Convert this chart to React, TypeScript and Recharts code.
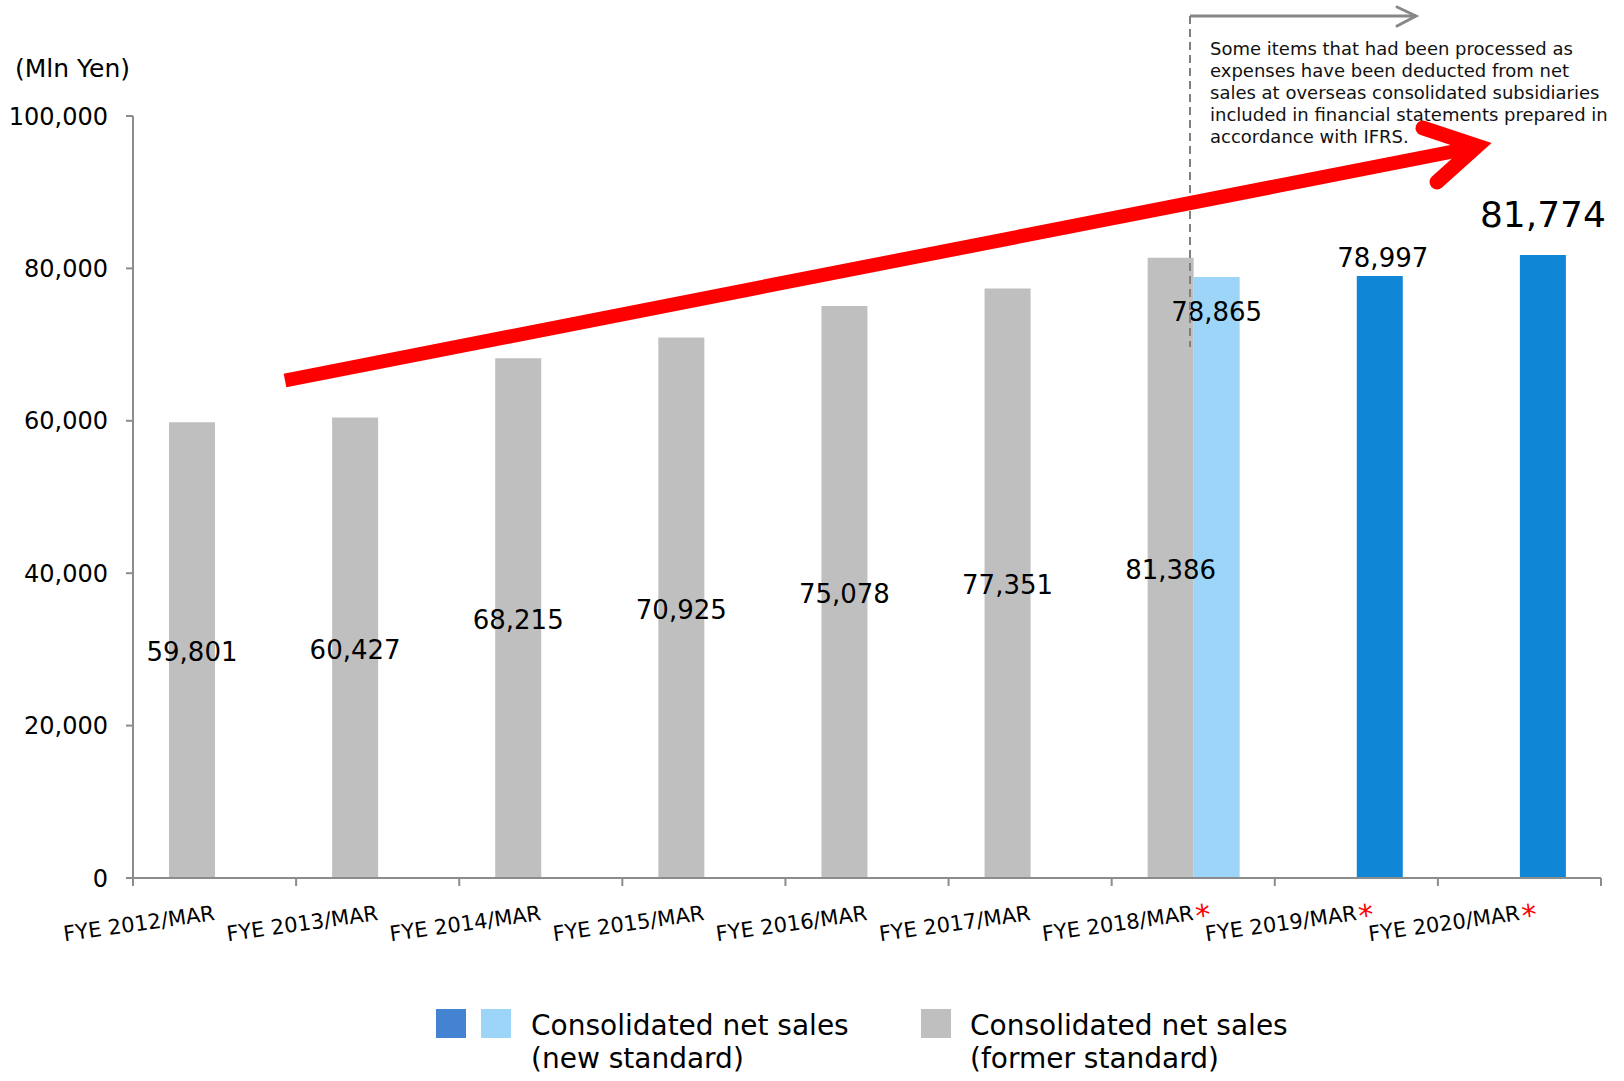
import React from 'react';
import { BarChart, Bar, XAxis, YAxis, Cell, LabelList } from 'recharts';

const categories = [
  'FYE 2012/MAR',
  'FYE 2013/MAR',
  'FYE 2014/MAR',
  'FYE 2015/MAR',
  'FYE 2016/MAR',
  'FYE 2017/MAR',
  'FYE 2018/MAR',
  'FYE 2019/MAR',
  'FYE 2020/MAR',
];
const formerStandard: (number | null)[] = [59801, 60427, 68215, 70925, 75078, 77351, 81386, null, null];
const newStandard: (number | null)[] = [null, null, null, null, null, null, 78865, 78997, 81774];
const newStandardKind = ['', '', '', '', '', '', 'transition', 'plain', 'latest'];
const starred = [false, false, false, false, false, false, true, true, true];
const yTicks = [0, 20000, 40000, 60000, 80000, 100000];
const unitLabel = '(Mln Yen)';
const noteLines = [
  'Some items that had been processed as',
  'expenses have been deducted from net',
  'sales at overseas consolidated subsidiaries',
  'included in financial statements prepared in',
  'accordance with IFRS.',
];
const legendNewLines = ['Consolidated net sales', '(new standard)'];
const legendFormerLines = ['Consolidated net sales', '(former standard)'];

const FONT = '"DejaVu Sans", Verdana, sans-serif';
const GRAY = '#BFBFBF';
const LIGHT_BLUE = '#9DD5F8';
const DARK_BLUE = '#1087D6';
const LEGEND_BLUE = '#4483D2';
const AXIS = '#8C8C8C';

const data = categories.map((category, i) => ({
  category,
  former: formerStandard[i],
  newStd: newStandard[i],
  kind: newStandardKind[i],
}));

const fmt = (v: number) => v.toLocaleString('en-US');

const FormerLabel = (props: any) => {
  const { x, y, width, height, value } = props;
  if (value == null) return null;
  const cx = Number(x) + Number(width) / 2;
  const cy = Number(y) + Number(height) / 2 + 2;
  return (
    <text x={cx} y={cy} dy="0.35em" textAnchor="middle" fontSize={26} fontFamily={FONT} fill="#000">
      {fmt(value)}
    </text>
  );
};

const NewLabel = (props: any) => {
  const { x, y, width, value } = props;
  if (value == null) return null;
  const idx = newStandard.indexOf(Number(value));
  const kind = idx >= 0 ? newStandardKind[idx] : 'plain';
  const cx = Number(x) + Number(width) / 2;
  const top = Number(y);
  let cy = top - 18;
  let size = 26;
  let dx = 3;
  if (kind === 'transition') {
    cy = top + 35;
    dx = 0;
  } else if (kind === 'latest') {
    cy = top - 40;
    size = 36;
    dx = 0;
  }
  return (
    <text x={cx + dx} y={cy} dy="0.35em" textAnchor="middle" fontSize={size} fontFamily={FONT} fill="#000">
      {fmt(value)}
    </text>
  );
};

const XTick = (props: any) => {
  const { x, y, payload, index } = props;
  const half = payload && payload.offset ? payload.offset : 81.55;
  const i = categories.indexOf(payload.value);
  return (
    <g>
      <line x1={x - half} x2={x - half} y1={y} y2={y + 8} stroke={AXIS} strokeWidth={2} />
      {i === categories.length - 1 && (
        <line x1={x + half} x2={x + half} y1={y} y2={y + 8} stroke={AXIS} strokeWidth={2} />
      )}
      <g transform={`translate(${x + 1},${y + 42}) rotate(-8)`}>
        <text x={0} y={0} textAnchor="end" fontSize={21} fontFamily={FONT} fill="#000">
          {payload.value}
        </text>
        {starred[i] && (
          <text x={2} y={7} textAnchor="start" fontSize={30} fontFamily={FONT} fill="#FF0000">
            *
          </text>
        )}
      </g>
    </g>
  );
};

const Overlay = () => (
  <svg
    width={1624}
    height={1081}
    style={{ position: 'absolute', left: 0, top: 0, pointerEvents: 'none' }}
  >
    <text x={15} y={77} fontSize={25} fontFamily={FONT} fill="#000">
      {unitLabel}
    </text>
    {/* gray scope arrow */}
    <line x1={1190} y1={16} x2={1416} y2={16} stroke="#888" strokeWidth={3} />
    <polyline points="1397,7 1416,16 1397,26" fill="none" stroke="#888" strokeWidth={3} strokeLinecap="round" strokeLinejoin="miter" />
    <line x1={1190} y1={16} x2={1190} y2={347} stroke="#808080" strokeWidth={2} strokeDasharray="8 5" />
    {/* red trend arrow */}
    <line x1={285} y1={380.5} x2={1476} y2={147} stroke="#FF0000" strokeWidth={14} strokeLinecap="butt" />
    <polyline
      points="1423,128 1477,146 1437,182"
      fill="none"
      stroke="#FF0000"
      strokeWidth={15}
      strokeLinecap="round"
      strokeLinejoin="miter"
      strokeMiterlimit={10}
    />
    {noteLines.map((line, i) => (
      <text key={i} x={1210} y={55 + i * 22.1} fontSize={18} fontFamily={FONT} fill="#111">
        {line}
      </text>
    ))}
    {/* legend */}
    <rect x={436} y={1009} width={30} height={29} fill={LEGEND_BLUE} />
    <rect x={481} y={1009} width={30} height={29} fill={LIGHT_BLUE} />
    {legendNewLines.map((line, i) => (
      <text key={i} x={531} y={1035 + i * 33} fontSize={28} fontFamily={FONT} fill="#000">
        {line}
      </text>
    ))}
    <rect x={921} y={1009} width={30} height={29} fill={GRAY} />
    {legendFormerLines.map((line, i) => (
      <text key={i} x={970} y={1035 + i * 33} fontSize={28} fontFamily={FONT} fill="#000">
        {line}
      </text>
    ))}
  </svg>
);

export default function App() {
  return (
    <div style={{ position: 'absolute', left: 0, top: 0, width: 1624, height: 1081, background: '#fff' }}>
      <BarChart
        width={1624}
        height={1081}
        data={data}
        margin={{ top: 116, right: 23, bottom: 143, left: 0 }}
        barGap={0}
        barCategoryGap={0}
      >
        <YAxis
          width={133}
          domain={[0, 100000]}
          ticks={yTicks}
          interval={0}
          tickFormatter={fmt}
          axisLine={{ stroke: AXIS, strokeWidth: 2 }}
          tickLine={{ stroke: AXIS, strokeWidth: 2 }}
          tickSize={7}
          tickMargin={18}
          tick={{ fontSize: 24, fill: '#000', fontFamily: FONT }}
        />
        <XAxis
          dataKey="category"
          height={60}
          interval={0}
          tickLine={false}
          tickSize={0}
          tickMargin={0}
          axisLine={{ stroke: AXIS, strokeWidth: 2 }}
          tick={<XTick />}
        />
        <Bar dataKey="former" fill={GRAY} barSize={46} isAnimationActive={false}>
          <LabelList dataKey="former" content={<FormerLabel />} />
        </Bar>
        <Bar dataKey="newStd" barSize={46} isAnimationActive={false}>
          {data.map((d, i) => (
            <Cell key={i} fill={d.kind === 'transition' ? LIGHT_BLUE : DARK_BLUE} />
          ))}
          <LabelList dataKey="newStd" content={<NewLabel />} />
        </Bar>
      </BarChart>
      <Overlay />
    </div>
  );
}
